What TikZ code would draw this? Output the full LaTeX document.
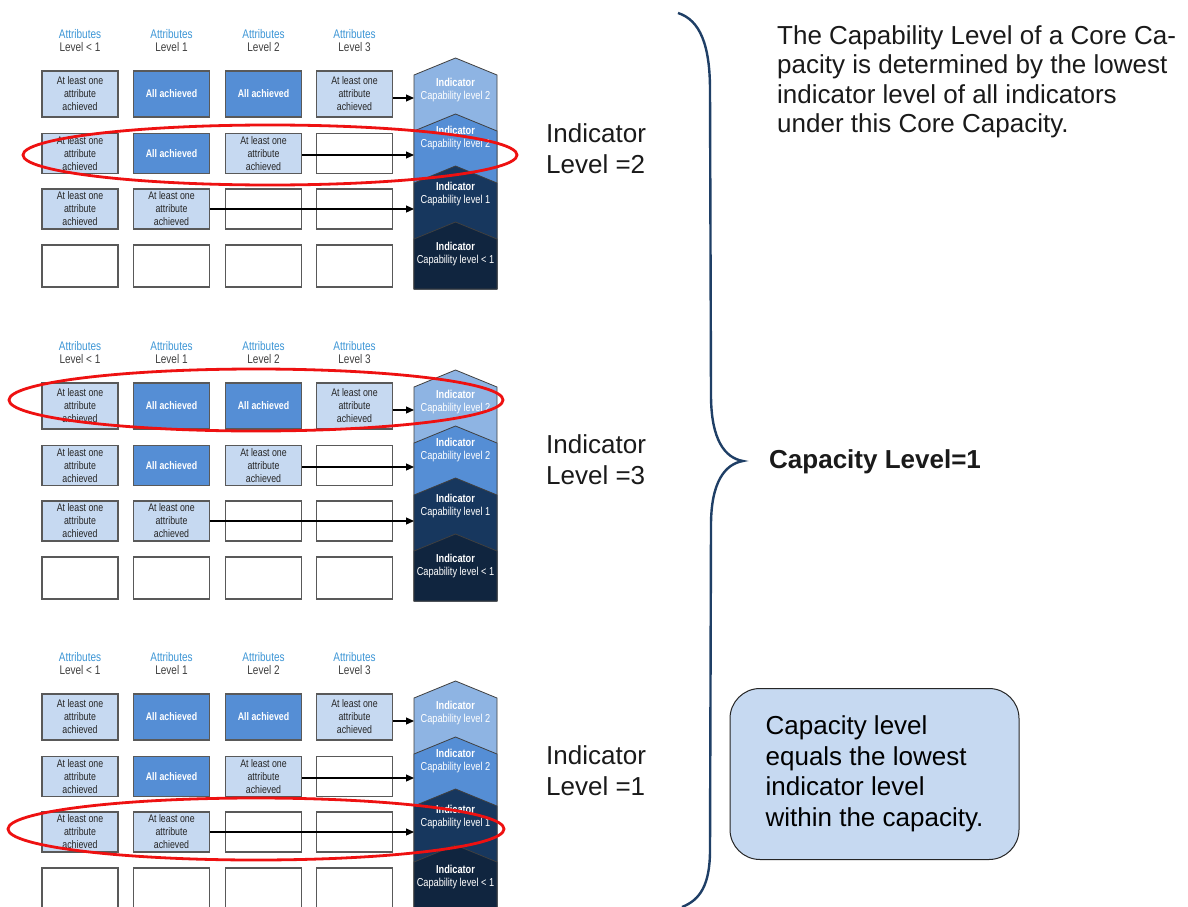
\documentclass[tikz,border=0pt]{standalone}
\usepackage{fontspec}
\setmainfont{Liberation Sans}
\newfontfamily\cond[FakeStretch=0.8]{Liberation Sans}
\usetikzlibrary{arrows.meta}
\definecolor{lightbox}{HTML}{C6D9F1}
\definecolor{darkbox}{HTML}{558ED5}
\definecolor{chevA}{HTML}{8EB4E3}
\definecolor{chevB}{HTML}{558ED5}
\definecolor{chevC}{HTML}{17375E}
\definecolor{chevD}{HTML}{10253F}
\definecolor{boxline}{HTML}{595959}
\definecolor{attrblue}{HTML}{3D96D6}
\definecolor{bracecol}{HTML}{1F3F66}
\definecolor{ellred}{HTML}{EE1111}
\definecolor{txt}{HTML}{1A1A1A}
\tikzset{
 cell/.style={draw=boxline, line width=1.2pt, minimum width=76pt, inner sep=0pt, align=center,
   font=\cond\fontsize{11}{13}\selectfont, text=black!85},
 lt/.style={cell, fill=lightbox},
 dk/.style={cell, fill=darkbox, text=white, font=\cond\bfseries\fontsize{11}{13}\selectfont},
 em/.style={cell, fill=white},
 rA/.style={minimum height=46pt},
 rB/.style={minimum height=40pt},
 rC/.style={minimum height=40pt},
 rD/.style={minimum height=42pt},
 hdr/.style={align=center, inner sep=0pt, text=black!75, font=\cond\fontsize{12.5}{13}\selectfont},
 chev/.style={draw=black!75, line width=0.8pt},
 chevt/.style={align=center, inner sep=0pt, text=white, font=\cond\fontsize{11.5}{13}\selectfont},
 arr/.style={draw=black, line width=1.2pt, -{Triangle[length=8pt,width=7pt]}},
 ell/.style={draw=ellred, line width=2.8pt},
 bigtxt/.style={inner sep=0pt, align=left, text=txt},
}
\newcommand\lone{At least one\\attribute\\achieved}
\newcommand\drawpanel[2]{%
\begin{scope}[shift={(0,#2)}]
 \node[hdr] (#1h1) at (80,40.5) {\textcolor{attrblue}{Attributes}\\Level < 1};
 \node[hdr] (#1h2) at (171.5,40.5) {\textcolor{attrblue}{Attributes}\\Level 1};
 \node[hdr] (#1h3) at (263.5,40.5) {\textcolor{attrblue}{Attributes}\\Level 2};
 \node[hdr] (#1h4) at (354.5,40.5) {\textcolor{attrblue}{Attributes}\\Level 3};
 % row 1
 \node[lt,rA] (#1b11) at (80,94) {\lone};
 \node[dk,rA] (#1b12) at (171.5,94) {All achieved};
 \node[dk,rA] (#1b13) at (263.5,94) {All achieved};
 \node[lt,rA] (#1b14) at (354.5,94) {\lone};
 % row 2
 \node[lt,rB] (#1b21) at (80,153.5) {\lone};
 \node[dk,rB] (#1b22) at (171.5,153.5) {All achieved};
 \node[lt,rB] (#1b23) at (263.5,153.5) {\lone};
 \node[em,rB] (#1b24) at (354.5,153.5) {};
 % row 3
 \node[lt,rC] (#1b31) at (80,209) {\lone};
 \node[lt,rC] (#1b32) at (171.5,209) {\lone};
 \node[em,rC] (#1b33) at (263.5,209) {};
 \node[em,rC] (#1b34) at (354.5,209) {};
 % row 4
 \node[em,rD] (#1b41) at (80,266) {};
 \node[em,rD] (#1b42) at (171.5,266) {};
 \node[em,rD] (#1b43) at (263.5,266) {};
 \node[em,rD] (#1b44) at (354.5,266) {};
 % chevron stack
 \draw[chev, fill=chevA] (414,75) -- (455.5,58) -- (497,75) -- (497,289) -- (414,289) -- cycle;
 \draw[chev, fill=chevB] (414,131) -- (455.5,114) -- (497,131) -- (497,289) -- (414,289) -- cycle;
 \draw[chev, fill=chevC] (414,183) -- (455.5,166) -- (497,183) -- (497,289) -- (414,289) -- cycle;
 \draw[chev, fill=chevD] (414,239) -- (455.5,222) -- (497,239) -- (497,289) -- (414,289) -- cycle;
 \node[chevt] (#1i1) at (455.5,90.5) {\textbf{Indicator}\\Capability level 2};
 \node[chevt] (#1i2) at (455.5,138.5) {\textbf{Indicator}\\Capability level 2};
 \node[chevt] (#1i3) at (455.5,194.5) {\textbf{Indicator}\\Capability level 1};
 \node[chevt] (#1i4) at (455.5,254) {\textbf{Indicator}\\Capability level < 1};
 % arrows
 \coordinate (#1a1) at (414,98);
 \coordinate (#1a2) at (414,155);
 \coordinate (#1a3) at (414,209);
 \draw[arr] (#1b14.east |- #1a1) -- (#1a1);
 \draw[arr] (#1b23.east |- #1a2) -- (#1a2);
 \draw[arr] (#1b32.east |- #1a3) -- (#1a3);
\end{scope}}
\begin{document}
\begin{tikzpicture}[x=1pt,y=-1pt]
\useasboundingbox (0,0) rectangle (1188,907);
\clip (0,0) rectangle (1188,907);
\fill[white] (0,0) rectangle (1188,907);
\drawpanel{P}{0}
\drawpanel{Q}{312}
\drawpanel{R}{623}
% red ellipses
\draw[ell] (270,155) ellipse [x radius=247pt, y radius=30pt];
\draw[ell] (256,400) ellipse [x radius=247pt, y radius=31pt];
\draw[ell] (256,829) ellipse [x radius=248pt, y radius=31pt];
% indicator level labels
\node[bigtxt, anchor=north west, font=\fontsize{26}{31}\selectfont] (L1) at (546,123) {Indicator\\Level =2};
\node[bigtxt, anchor=north west, font=\fontsize{26}{31}\selectfont] (L2) at (546,434) {Indicator\\Level =3};
\node[bigtxt, anchor=north west, font=\fontsize{26}{31}\selectfont] (L3) at (546,745) {Indicator\\Level =1};
% brace
\draw[draw=bracecol, line width=2.4pt] (678,13) .. controls (700,20) and (710,45) .. (710,90)
  -- (711,395) .. controls (711,440) and (725,458) .. (743,461)
  .. controls (725,464) and (711,482) .. (711,525)
  -- (710,850) .. controls (710,885) and (700,900) .. (682,907);
% texts
\node[bigtxt, anchor=north west, font=\fontsize{26}{29.5}\selectfont] (T) at (777,25)
  {The Capability Level of a Core Ca-\\pacity is determined by the lowest\\indicator level of all indicators\\under this Core Capacity.};
\node[bigtxt, anchor=base west, font=\bfseries\fontsize{26}{31}\selectfont] (C) at (769,468) {Capacity Level=1};
\node[draw=black!85, line width=1pt, fill=lightbox, rounded corners=30pt, minimum width=289pt, minimum height=171pt,
  align=left, inner sep=0pt, text=black, font=\fontsize{26}{30.5}\selectfont] (B) at (874.5,774)
  {Capacity level\\equals the lowest\\indicator level\\within the capacity.};
\end{tikzpicture}
\end{document}
